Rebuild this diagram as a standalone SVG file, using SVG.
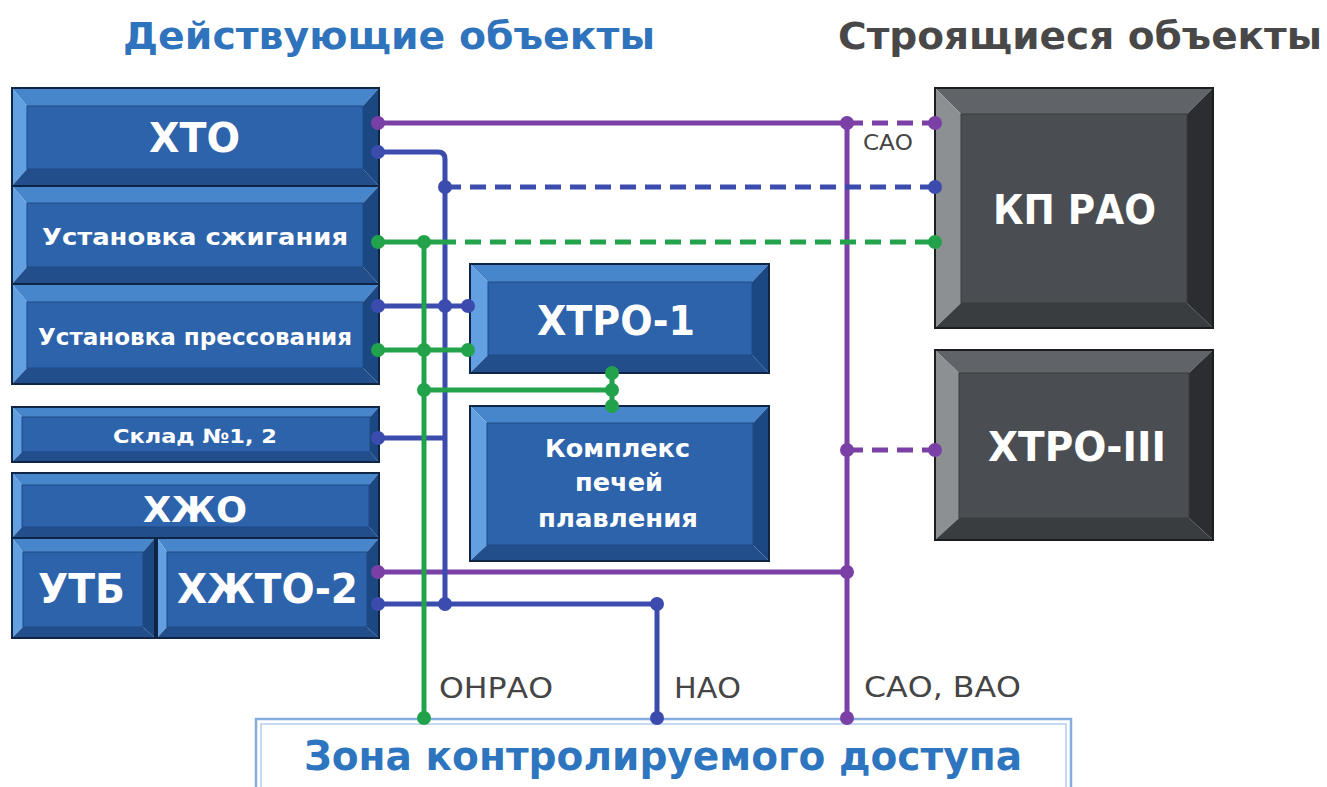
<svg xmlns="http://www.w3.org/2000/svg" width="1327" height="787" viewBox="0 0 1327 787">
<style>
.bt{fill:#4886cc}.bl{fill:#63a0e2}.br{fill:#1b4782}.bb{fill:#224f8c}.bf{fill:#2d63ab;stroke:#1e4a86;stroke-width:1}.bo{fill:none;stroke:#0e2545;stroke-width:2}
.gt{fill:#606367}.gl{fill:#8d9093}.gr{fill:#2b2d30}.gb{fill:#3a3d40}.gf{fill:#4a4d51;stroke:#3a3c3f;stroke-width:1}.go{fill:none;stroke:#1c1d1f;stroke-width:2}
.wt{fill:#ffffff;font-family:"DejaVu Sans",Verdana,sans-serif;font-weight:bold}
.lb{fill:#454545;font-family:"DejaVu Sans",Verdana,sans-serif}
.ln{fill:none;stroke-width:5}
.p{stroke:#7b40a6}.b{stroke:#3b4cae}.g{stroke:#21a24b}
.d{stroke-dasharray:16 9}
.dp{fill:#7b40a6}.db{fill:#3b4cae}.dg{fill:#21a24b}
</style>
<rect width="1327" height="787" fill="#ffffff"/>
<text x="123" y="49" font-family="DejaVu Sans,Verdana,sans-serif" font-weight="bold" font-size="38" fill="#2f73bd" textLength="532" lengthAdjust="spacingAndGlyphs">Действующие объекты</text>
<text x="838" y="49" font-family="DejaVu Sans,Verdana,sans-serif" font-weight="bold" font-size="38" fill="#484848" textLength="484" lengthAdjust="spacingAndGlyphs">Строящиеся объекты</text>

<g id="hto">
<polygon class="bt" points="12,88 379,88 363,106 27,106"/><polygon class="bl" points="12,88 27,106 27,169 12,186"/><polygon class="br" points="379,88 379,186 363,169 363,106"/><polygon class="bb" points="12,186 27,169 363,169 379,186"/><rect class="bf" x="27" y="106" width="336" height="63"/><rect class="bo" x="12" y="88" width="367" height="98"/>
<text class="wt" x="149" y="152" font-size="40" textLength="91" lengthAdjust="spacingAndGlyphs">ХТО</text>
</g>
<g id="szhig">
<polygon class="bt" points="12,186 379,186 363,203 27,203"/><polygon class="bl" points="12,186 27,203 27,267 12,284"/><polygon class="br" points="379,186 379,284 363,267 363,203"/><polygon class="bb" points="12,284 27,267 363,267 379,284"/><rect class="bf" x="27" y="203" width="336" height="64"/><rect class="bo" x="12" y="186" width="367" height="98"/>
<text class="wt" x="42" y="245" font-size="23" textLength="306" lengthAdjust="spacingAndGlyphs">Установка сжигания</text>
</g>
<g id="press">
<polygon class="bt" points="12,284 379,284 363,302 27,302"/><polygon class="bl" points="12,284 27,302 27,368 12,384"/><polygon class="br" points="379,284 379,384 363,368 363,302"/><polygon class="bb" points="12,384 27,368 363,368 379,384"/><rect class="bf" x="27" y="302" width="336" height="66"/><rect class="bo" x="12" y="284" width="367" height="100"/>
<text class="wt" x="38" y="345" font-size="23" textLength="314" lengthAdjust="spacingAndGlyphs">Установка прессования</text>
</g>
<g id="sklad">
<polygon class="bt" points="12,407 379,407 370,417 22,417"/><polygon class="bl" points="12,407 22,417 22,452 12,462"/><polygon class="br" points="379,407 379,462 370,452 370,417"/><polygon class="bb" points="12,462 22,452 370,452 379,462"/><rect class="bf" x="22" y="417" width="348" height="35"/><rect class="bo" x="12" y="407" width="367" height="55"/>
<text class="wt" x="113" y="443" font-size="20" textLength="164" lengthAdjust="spacingAndGlyphs">Склад №1, 2</text>
</g>
<g id="hzho">
<polygon class="bt" points="12,473 379,473 369,485 22,485"/><polygon class="bl" points="12,473 22,485 22,527 12,538"/><polygon class="br" points="379,473 379,538 369,527 369,485"/><polygon class="bb" points="12,538 22,527 369,527 379,538"/><rect class="bf" x="22" y="485" width="347" height="42"/><rect class="bo" x="12" y="473" width="367" height="65"/>
<text class="wt" x="143" y="522" font-size="36" textLength="104" lengthAdjust="spacingAndGlyphs">ХЖО</text>
</g>
<g id="utb">
<polygon class="bt" points="12,538 155,538 143,552 23,552"/><polygon class="bl" points="12,538 23,552 23,627 12,638"/><polygon class="br" points="155,538 155,638 143,627 143,552"/><polygon class="bb" points="12,638 23,627 143,627 155,638"/><rect class="bf" x="23" y="552" width="120" height="75"/><rect class="bo" x="12" y="538" width="143" height="100"/>
<text class="wt" x="38" y="603" font-size="40" textLength="87" lengthAdjust="spacingAndGlyphs">УТБ</text>
</g>
<g id="hzhto2">
<polygon class="bt" points="157,538 379,538 367,552 167,552"/><polygon class="bl" points="157,538 167,552 167,627 157,638"/><polygon class="br" points="379,538 379,638 367,627 367,552"/><polygon class="bb" points="157,638 167,627 367,627 379,638"/><rect class="bf" x="167" y="552" width="200" height="75"/><rect class="bo" x="157" y="538" width="222" height="100"/>
<text class="wt" x="177" y="603" font-size="40" textLength="181" lengthAdjust="spacingAndGlyphs">ХЖТО-2</text>
</g>
<g id="htro1">
<polygon class="bt" points="470,264 769,264 752,282 488,282"/><polygon class="bl" points="470,264 488,282 488,355 470,373"/><polygon class="br" points="769,264 769,373 752,355 752,282"/><polygon class="bb" points="470,373 488,355 752,355 769,373"/><rect class="bf" x="488" y="282" width="264" height="73"/><rect class="bo" x="470" y="264" width="299" height="109"/>
<text class="wt" x="537" y="335" font-size="40" textLength="158" lengthAdjust="spacingAndGlyphs">ХТРО-1</text>
</g>
<g id="kompleks">
<polygon class="bt" points="470,406 769,406 753,423 487,423"/><polygon class="bl" points="470,406 487,423 487,545 470,561"/><polygon class="br" points="769,406 769,561 753,545 753,423"/><polygon class="bb" points="470,561 487,545 753,545 769,561"/><rect class="bf" x="487" y="423" width="266" height="122"/><rect class="bo" x="470" y="406" width="299" height="155"/>
<text class="wt" x="545" y="457" font-size="25" textLength="145" lengthAdjust="spacingAndGlyphs">Комплекс</text>
<text class="wt" x="575" y="491" font-size="25" textLength="88" lengthAdjust="spacingAndGlyphs">печей</text>
<text class="wt" x="538" y="527" font-size="25" textLength="160" lengthAdjust="spacingAndGlyphs">плавления</text>
</g>
<g id="kprao">
<polygon class="gt" points="935,88 1213,88 1187,114 961,114"/><polygon class="gl" points="935,88 961,114 961,303 935,328"/><polygon class="gr" points="1213,88 1213,328 1187,303 1187,114"/><polygon class="gb" points="935,328 961,303 1187,303 1213,328"/><rect class="gf" x="961" y="114" width="226" height="189"/><rect class="go" x="935" y="88" width="278" height="240"/>
<text class="wt" x="993" y="224" font-size="40" textLength="163" lengthAdjust="spacingAndGlyphs">КП РАО</text>
</g>
<g id="htro3">
<polygon class="gt" points="935,350 1213,350 1189,373 959,373"/><polygon class="gl" points="935,350 959,373 959,518 935,540"/><polygon class="gr" points="1213,350 1213,540 1189,518 1189,373"/><polygon class="gb" points="935,540 959,518 1189,518 1213,540"/><rect class="gf" x="959" y="373" width="230" height="145"/><rect class="go" x="935" y="350" width="278" height="190"/>
<text class="wt" x="988" y="461" font-size="40" textLength="178" lengthAdjust="spacingAndGlyphs">ХТРО-III</text>
</g>
<g id="zone">
<rect x="256" y="719" width="815" height="80" fill="#ffffff" stroke="#86ade0" stroke-width="2.5"/>
<rect x="261" y="724" width="805" height="70" fill="none" stroke="#b3cdef" stroke-width="1.5"/>
<text x="304" y="770" font-family="DejaVu Sans,Verdana,sans-serif" font-weight="bold" font-size="40" fill="#2e75c0" textLength="718" lengthAdjust="spacingAndGlyphs">Зона контролируемого доступа</text>
</g>

<g id="connectors">
<path class="ln p" d="M378 123H847V718M378 572H847"/>
<path class="ln p d" d="M847 123H935M847 450H935"/>
<path class="ln b" d="M378 152H438Q445 152 445 159V604M378 306H470M378 438H445M378 604H657V718"/>
<path class="ln b d" d="M445 187H935"/>
<path class="ln g" d="M378 242H440M424 242V718M378 350H470M424 390H612M612 373V406"/>
<path class="ln g d" d="M440 242H935"/>
<g class="dp"><circle cx="378" cy="123" r="7"/><circle cx="847" cy="123" r="7"/><circle cx="935" cy="123" r="7"/><circle cx="847" cy="450" r="7"/><circle cx="935" cy="450" r="7"/><circle cx="378" cy="572" r="7"/><circle cx="847" cy="572" r="7"/><circle cx="847" cy="718" r="7"/></g>
<g class="db"><circle cx="378" cy="152" r="7"/><circle cx="445" cy="187" r="7"/><circle cx="935" cy="187" r="7"/><circle cx="378" cy="306" r="7"/><circle cx="445" cy="306" r="7"/><circle cx="468" cy="306" r="7"/><circle cx="378" cy="438" r="7"/><circle cx="378" cy="604" r="7"/><circle cx="445" cy="604" r="7"/><circle cx="657" cy="604" r="7"/><circle cx="657" cy="718" r="7"/></g>
<g class="dg"><circle cx="378" cy="242" r="7"/><circle cx="424" cy="242" r="7"/><circle cx="935" cy="242" r="7"/><circle cx="378" cy="350" r="7"/><circle cx="424" cy="350" r="7"/><circle cx="468" cy="350" r="7"/><circle cx="424" cy="390" r="7"/><circle cx="612" cy="373" r="7"/><circle cx="612" cy="390" r="7"/><circle cx="612" cy="406" r="7"/><circle cx="424" cy="718" r="7"/></g>
</g>
<g id="labels">
<text class="lb" x="863" y="150" font-size="22" textLength="50" lengthAdjust="spacingAndGlyphs">САО</text>
<text class="lb" x="439" y="698" font-size="28" textLength="114" lengthAdjust="spacingAndGlyphs">ОНРАО</text>
<text class="lb" x="674" y="698" font-size="28" textLength="67" lengthAdjust="spacingAndGlyphs">НАО</text>
<text class="lb" x="864" y="697" font-size="28" textLength="157" lengthAdjust="spacingAndGlyphs">САО, ВАО</text>
</g>
</svg>
